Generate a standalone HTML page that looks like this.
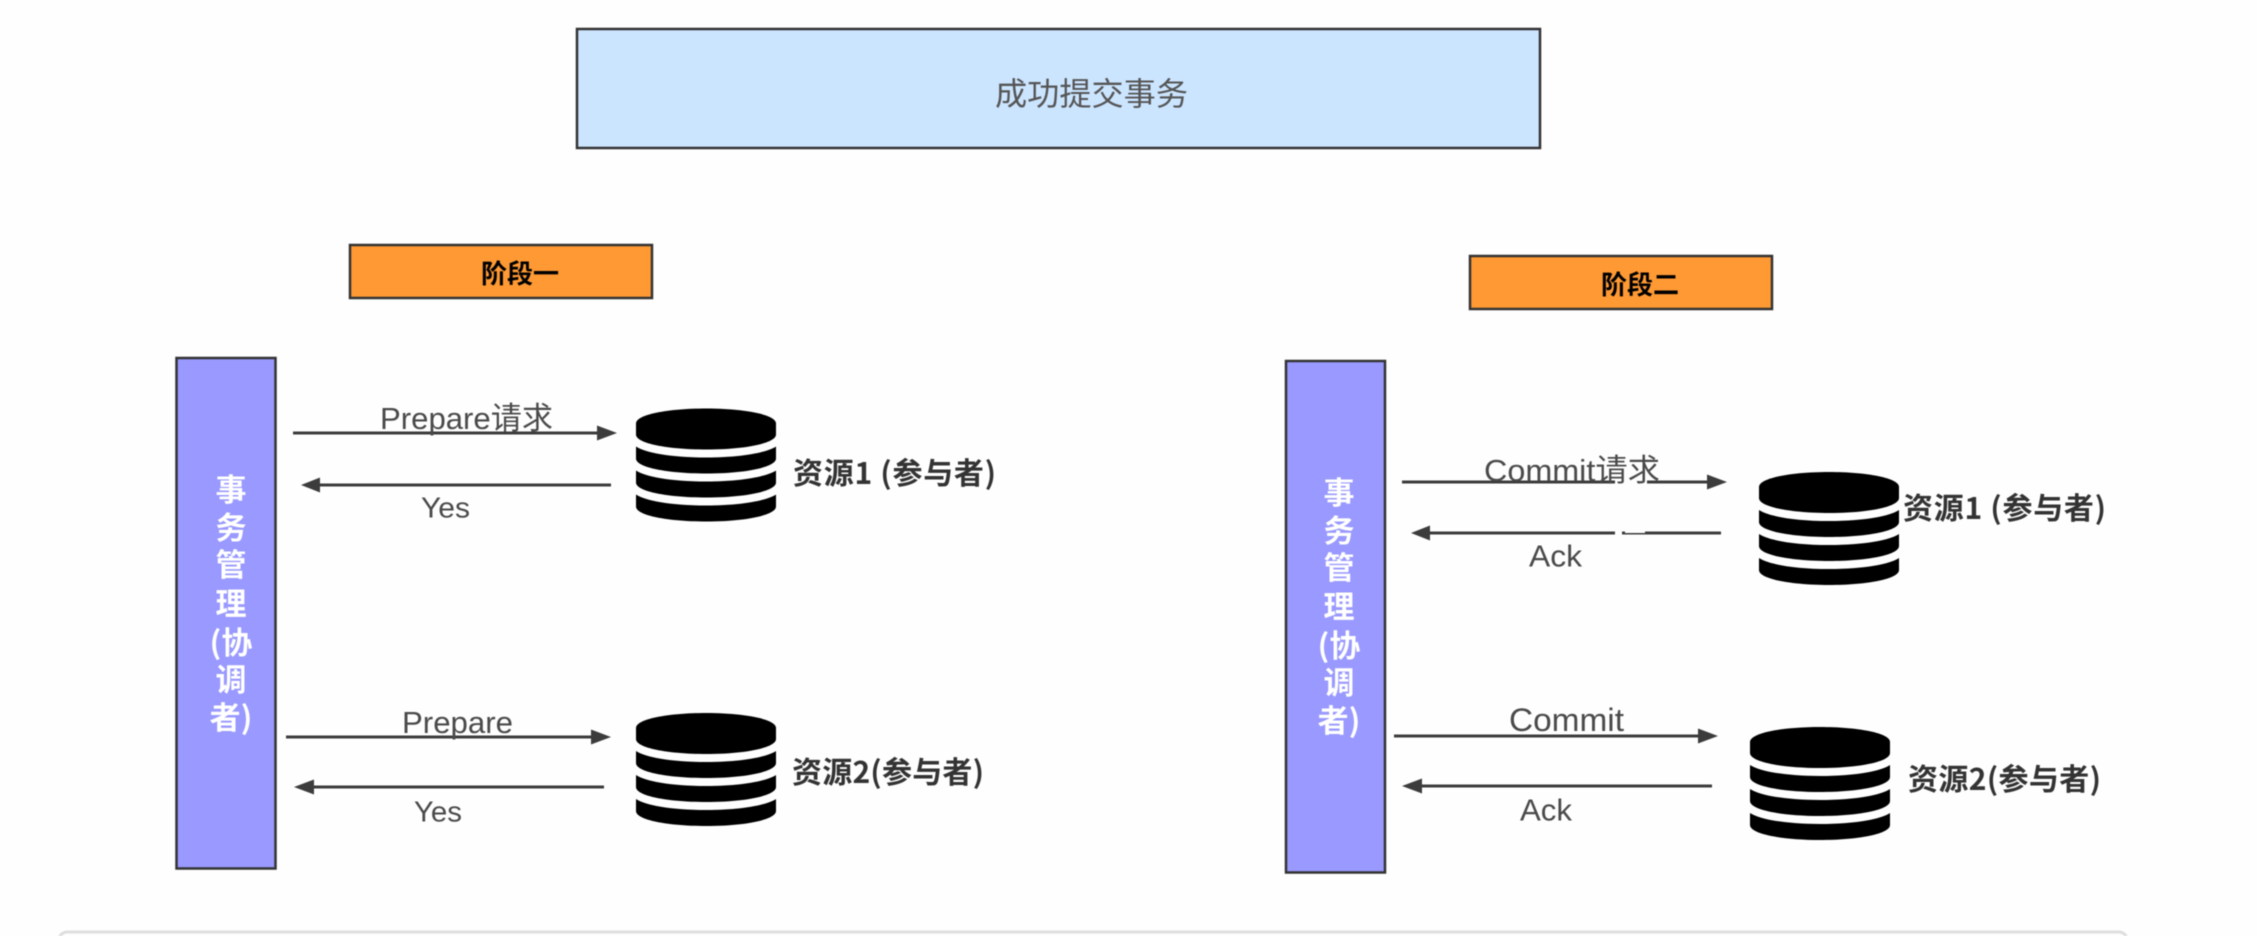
<!DOCTYPE html>
<html lang="zh">
<head>
<meta charset="utf-8">
<title>两阶段提交</title>
<style>
html,body{margin:0;padding:0;background:#fefefe;width:2258px;height:936px;overflow:hidden}
svg{display:block;filter:blur(.55px)}
text{font-family:"Liberation Sans","Noto Sans CJK SC",sans-serif;fill:#4a4a4a}
.b{font-weight:700;fill:#333;font-family:"Noto Sans CJK SC","Liberation Sans",sans-serif}
.k{font-weight:700;fill:#000;font-family:"Noto Sans CJK SC",sans-serif}
.v{font-weight:700;fill:#fff;text-anchor:middle;font-size:31px;font-family:"Noto Sans CJK SC","Liberation Sans",sans-serif}
.l{stroke:#3c3c3c;stroke-width:3;fill:none}
.h{fill:#3c3c3c}
.box{stroke:#333;stroke-width:2.5}
</style>
</head>
<body>
<svg width="2258" height="936" viewBox="0 0 2258 936" xmlns="http://www.w3.org/2000/svg">
<defs>
<g id="db" fill="#000">
<path d="M0 15C0 6 32 0 70 0C108 0 140 6 140 15V26C140 35 108 41 70 41C32 41 0 35 0 26Z"/>
<path d="M0 38C9 44 34 49 70 49C106 49 131 44 140 38V50C140 59 108 65 70 65C32 65 0 59 0 50Z"/>
<path d="M0 62C9 68 34 73 70 73C106 73 131 68 140 62V74C140 83 108 89 70 89C32 89 0 83 0 74Z"/>
<path d="M0 86C9 92 34 97 70 97C106 97 131 92 140 86V98C140 107 108 113 70 113C32 113 0 107 0 98Z"/>
</g>
</defs>

<rect x="0" y="0" width="2258" height="936" fill="#fefefe"/>

<!-- bottom card -->
<rect x="59" y="932" width="2068" height="30" rx="8" fill="#fdfdfd" stroke="#dedede" stroke-width="3"/>

<!-- title -->
<rect class="box" x="577" y="29" width="963" height="119" fill="#cce5ff"/>
<text x="995" y="105" font-size="32" textLength="193" lengthAdjust="spacingAndGlyphs" style="fill:#555">成功提交事务</text>

<!-- phases -->
<rect class="box" x="350" y="245" width="302" height="53" fill="#ff9933"/>
<text class="k" x="481" y="283" font-size="26" textLength="78">阶段一</text>
<rect class="box" x="1470" y="256" width="302" height="53" fill="#ff9933"/>
<text class="k" x="1601" y="294" font-size="26" textLength="78">阶段二</text>

<!-- left coordinator -->
<rect class="box" x="176.500" y="358" width="99" height="510.500" fill="#9999ff"/>
<text class="v" x="231" y="501">事</text>
<text class="v" x="231" y="539">务</text>
<text class="v" x="231" y="576">管</text>
<text class="v" x="231" y="615">理</text>
<text class="v" x="231" y="654">(协</text>
<text class="v" x="231" y="691">调</text>
<text class="v" x="231" y="729">者)</text>

<!-- right coordinator -->
<rect class="box" x="1286" y="361" width="99" height="511.500" fill="#9999ff"/>
<text class="v" x="1339" y="504">事</text>
<text class="v" x="1339" y="542">务</text>
<text class="v" x="1339" y="579">管</text>
<text class="v" x="1339" y="618">理</text>
<text class="v" x="1339" y="657">(协</text>
<text class="v" x="1339" y="694">调</text>
<text class="v" x="1339" y="732">者)</text>

<!-- left arrows -->
<line class="l" x1="293" y1="433" x2="600" y2="433"/>
<polygon class="h" points="597,425.500 617,433 597,440.500"/>
<text x="380" y="429" font-size="31" textLength="173" lengthAdjust="spacingAndGlyphs">Prepare请求</text>

<line class="l" x1="318" y1="485" x2="611" y2="485"/>
<polygon class="h" points="320,477.500 301,485 320,492.500"/>
<text x="421" y="517.500" font-size="29" textLength="49" lengthAdjust="spacingAndGlyphs">Yes</text>

<line class="l" x1="286" y1="737" x2="594" y2="737"/>
<polygon class="h" points="591,729.500 611,737 591,744.500"/>
<text x="402" y="733" font-size="31" textLength="111" lengthAdjust="spacingAndGlyphs">Prepare</text>

<line class="l" x1="310" y1="787" x2="604" y2="787"/>
<polygon class="h" points="314,779.500 294,787 314,794.500"/>
<text x="414" y="821.500" font-size="29" textLength="48" lengthAdjust="spacingAndGlyphs">Yes</text>

<!-- right arrows -->
<line class="l" x1="1402" y1="482" x2="1712" y2="482"/>
<polygon class="h" points="1707,474.500 1727,482 1707,489.500"/>
<rect x="1615" y="480" width="32" height="4.500" fill="#fefefe"/>
<text x="1484" y="481" font-size="31" textLength="176" lengthAdjust="spacingAndGlyphs">Commit请求</text>

<line class="l" x1="1428" y1="533" x2="1721" y2="533"/>
<polygon class="h" points="1430,525.500 1411,533 1430,540.500"/>
<rect x="1615" y="530" width="7" height="5" fill="#fefefe"/>
<rect x="1625" y="531" width="20" height="2" fill="#fefefe"/>
<text x="1529" y="566.500" font-size="31" textLength="53" lengthAdjust="spacingAndGlyphs">Ack</text>

<line class="l" x1="1394" y1="736" x2="1700" y2="736"/>
<polygon class="h" points="1698,728.500 1718,736 1698,743.500"/>
<text x="1509" y="731" font-size="32" textLength="115" lengthAdjust="spacingAndGlyphs">Commit</text>

<line class="l" x1="1418" y1="786" x2="1712" y2="786"/>
<polygon class="h" points="1422,778.500 1402,786 1422,793.500"/>
<text x="1520" y="820.500" font-size="31" textLength="52" lengthAdjust="spacingAndGlyphs">Ack</text>

<!-- databases -->
<use href="#db" x="636" y="408.500"/>
<use href="#db" x="636" y="713"/>
<use href="#db" x="1759" y="472"/>
<use href="#db" x="1750" y="727"/>

<!-- db labels -->
<text class="b" x="793" y="484" font-size="30" textLength="203">资源1 (参与者)</text>
<text class="b" x="792" y="783" font-size="30" textLength="192">资源2(参与者)</text>
<text class="b" x="1903" y="519" font-size="30" textLength="203">资源1 (参与者)</text>
<text class="b" x="1908" y="790" font-size="30" textLength="193">资源2(参与者)</text>
</svg>
</body>
</html>
